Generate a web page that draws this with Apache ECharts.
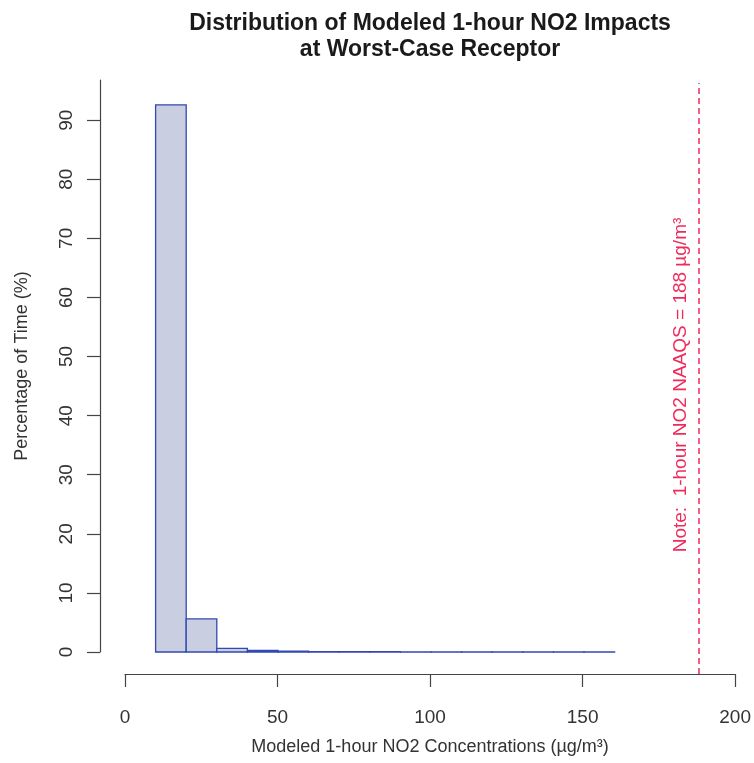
<!DOCTYPE html>
<html>
<head>
<meta charset="utf-8">
<title>NO2 distribution</title>
<script src="https://cdn.jsdelivr.net/npm/echarts@6/dist/echarts.min.js"></script>
<style>
  html, body { margin: 0; padding: 0; background: #fff; }
  #chart { width: 754px; height: 763px; }
</style>
</head>
<body>
<div id="chart"></div>
<script>
// histogram bins (ug/m3) and percentage of time per bin
var binStart = [10, 20, 30, 40, 50, 60, 70, 80, 90, 100, 110, 120, 130, 140, 150]
var binEnd = [20, 30, 40, 50, 60, 70, 80, 90, 100, 110, 120, 130, 140, 150, 160]
var percent = [92.6, 5.6, 0.6, 0.25, 0.15, 0.08, 0.05, 0.04, 0.03, 0.03, 0.02, 0.02, 0.02, 0.01, 0.01]

var xTicks = [0, 50, 100, 150, 200]
var yTicks = [0, 10, 20, 30, 40, 50, 60, 70, 80, 90]
var naaqs = 188

var font = 'Liberation Sans, Arial, Helvetica, sans-serif'
var axisColor = '#444'
var red = '#ef2b5c'

var bins = binStart.map(function (s, i) {
  return [s, binEnd[i], percent[i]]
})

function renderBin(params, api) {
  var topLeft = api.coord([api.value(0), api.value(2)])
  var bottomRight = api.coord([api.value(1), 0])
  return {
    type: 'rect',
    shape: {
      x: topLeft[0],
      y: topLeft[1],
      width: bottomRight[0] - topLeft[0],
      height: bottomRight[1] - topLeft[1]
    },
    style: {
      fill: '#c9cfe0',
      stroke: '#3348b2',
      lineWidth: 1.3
    }
  }
}

var chart = echarts.init(document.getElementById('chart'))

chart.setOption({
  animation: false,
  title: {
    text: 'Distribution of Modeled 1-hour NO2 Impacts\nat Worst-Case Receptor',
    left: 425,
    top: 6,
    textAlign: 'center',
    textStyle: {
      fontFamily: font,
      fontWeight: 'bold',
      fontSize: 23,
      lineHeight: 26,
      color: '#1a1a1a'
    }
  },
  grid: [
    // bars
    { left: 125, right: 17, top: 80, bottom: 111 },
    // shared x axis + NAAQS line, taller than the bar area
    { left: 125, right: 17, top: 83, bottom: 89 }
  ],
  xAxis: [
    {
      gridIndex: 0,
      type: 'value',
      min: 0,
      max: 200,
      show: false
    },
    {
      gridIndex: 1,
      type: 'value',
      min: 0,
      max: 200,
      interval: 50,
      name: 'Modeled 1-hour NO2 Concentrations (µg/m³)',
      nameLocation: 'middle',
      nameGap: 64,
      nameMoveOverlap: false,
      nameTextStyle: { fontFamily: font, fontSize: 18, color: '#333' },
      splitLine: { show: false },
      axisLine: { show: true, onZero: false, lineStyle: { color: axisColor, width: 1.2 } },
      axisTick: { show: true, length: 13, lineStyle: { color: axisColor, width: 1.2 }, customValues: xTicks },
      axisLabel: { margin: 34, fontFamily: font, fontSize: 19, color: '#333', customValues: xTicks }
    }
  ],
  yAxis: [
    {
      gridIndex: 0,
      type: 'value',
      min: 0,
      max: 96.8,
      offset: 25,
      name: 'Percentage of Time (%)',
      nameLocation: 'middle',
      nameGap: 69,
      nameMoveOverlap: false,
      nameTextStyle: { fontFamily: font, fontSize: 18, color: '#333' },
      splitLine: { show: false },
      axisLine: { show: true, onZero: false, lineStyle: { color: axisColor, width: 1.2 } },
      axisTick: { show: true, length: 13, lineStyle: { color: axisColor, width: 1.2 }, customValues: yTicks },
      axisLabel: { margin: 24, rotate: 90, fontFamily: font, fontSize: 19, color: '#333', customValues: yTicks }
    },
    {
      gridIndex: 1,
      type: 'value',
      min: 0,
      max: 1,
      show: false
    }
  ],
  series: [
    {
      type: 'custom',
      xAxisIndex: 0,
      yAxisIndex: 0,
      renderItem: renderBin,
      encode: { x: [0, 1], y: 2 },
      data: bins
    },
    {
      type: 'line',
      xAxisIndex: 1,
      yAxisIndex: 1,
      data: [],
      markLine: {
        silent: true,
        symbol: 'none',
        lineStyle: { color: red, type: [6, 4], width: 1.5 },
        label: { show: false },
        data: [{ xAxis: naaqs }]
      }
    }
  ]
})

// note text, placed just left of the NAAQS line
var lineX = chart.convertToPixel({ xAxisIndex: 1 }, naaqs)
chart.setOption({
  graphic: [{
    type: 'text',
    x: lineX - 18,
    y: 385,
    rotation: Math.PI / 2,
    style: {
      text: 'Note:  1-hour NO2 NAAQS = ' + naaqs + ' µg/m³',
      fill: red,
      font: '19px ' + font,
      align: 'center',
      verticalAlign: 'middle'
    }
  }]
})
</script>
</body>
</html>
